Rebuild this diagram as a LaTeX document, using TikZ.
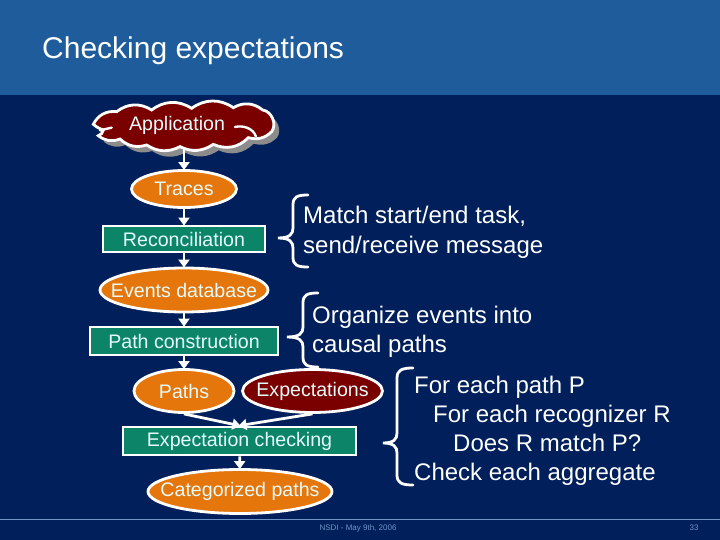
\documentclass[tikz,border=0pt]{standalone}
\usepackage{fontspec}
\setmainfont{Liberation Sans}
\usetikzlibrary{shapes.geometric,arrows.meta}
\definecolor{bgblue}{HTML}{001F5B}
\definecolor{bandblue}{HTML}{1F5C9C}
\definecolor{tealbox}{HTML}{0B8468}
\definecolor{orangefill}{HTML}{E5760C}
\definecolor{redfill}{HTML}{7A0000}
\definecolor{linkblue}{HTML}{6F94C8}
\definecolor{boxtext}{HTML}{E6FBFB}
\tikzset{
  x=1pt,y=-1pt,
  flowtext/.style={text=boxtext,font=\fontsize{19.6}{20}\selectfont,inner sep=0pt},
  oval/.style={ellipse,draw=white,line width=2.8pt,flowtext,inner xsep=-40pt,inner ysep=-10pt},
  orangeoval/.style={oval,fill=orangefill},
  redoval/.style={oval,fill=redfill},
  stepbox/.style={rectangle,draw=white,line width=2.8pt,fill=tealbox,flowtext},
  flow/.style={draw=white,line width=2.8pt,-{Triangle[width=11pt,length=8pt]},shorten >=-1pt},
  bracepath/.style={draw=white,line width=2.8pt,line cap=round},
  remark/.style={text=white,font=\fontsize{24}{24}\selectfont,inner sep=0pt,anchor=base west},
  foot/.style={text=linkblue,font=\fontsize{8}{8}\selectfont,inner sep=0pt}
}
\def\cloudpath{(40,88) to[bend left=35] (110,50) to[bend left=35] (215,45) to[bend left=35] (335,40) to[bend left=35] (460,38) to[bend left=35] (548,45) to[bend left=60] (575,110) to[bend left=30] (505,128) to[bend left=35] (400,148) to[bend left=30] (300,155) to[bend left=30] (200,150) to[bend left=30] (120,132) to[bend left=30] (55,122) to[bend right=30] (70,105) to[bend left=10] (40,88) -- cycle}
\begin{document}
\begin{tikzpicture}
\useasboundingbox (0,0) rectangle (720,540);
\fill[bgblue] (0,0) rectangle (720,540);
\fill[bandblue] (0,0) rectangle (720,95);
\draw[linkblue,line width=1pt] (0,519.5) -- (720,519.5);
\node[anchor=base west,inner sep=0pt,text=white,font=\fontsize{30}{30}\selectfont] (title) at (42,59) {Checking expectations};
% cloud
\begin{scope}[shift={(80,95)},x=0.3333pt,y=-0.3333pt]
\begin{scope}[shift={(16,18)}]
\fill[black!45] \cloudpath;
\end{scope}
\draw[draw=white,line width=2.8pt,fill=redfill] \cloudpath;
\draw[white,line width=2.4pt,line cap=round] (465,96) .. controls (490,90) and (520,100) .. (528,125);
\draw[white,line width=2.4pt,line cap=round] (60,106) -- (95,98);
\end{scope}
\node[minimum width=166pt,minimum height=47pt,inner sep=0pt,flowtext] (app) at (177,125) {Application};
\node[orangeoval,minimum width=105pt,minimum height=37pt] (traces) at (184,189) {Traces};
\node[stepbox,minimum width=162pt,minimum height=26pt] (recon) at (184,239) {Reconciliation};
\node[orangeoval,minimum width=168pt,minimum height=44pt] (events) at (184,290) {Events database};
\node[stepbox,minimum width=188pt,minimum height=28pt] (pathc) at (184,341) {Path construction};
\node[orangeoval,minimum width=100pt,minimum height=43pt] (paths) at (184,391) {Paths};
\node[redoval,minimum width=140pt,minimum height=43pt] (expect) at (312.5,391) {Expectations};
\node[stepbox,minimum width=233pt,minimum height=28pt] (check) at (239.5,441) {Expectation checking};
\node[orangeoval,minimum width=184pt,minimum height=44pt] (cat) at (240,491.5) {Categorized paths};
% connectors
\draw[flow] (traces |- app.south) -- (traces.north);
\draw[flow] (traces) -- (recon);
\draw[flow] (recon) -- (events);
\draw[flow] (events) -- (pathc);
\draw[flow] (pathc) -- (paths);
\draw[flow] (paths.south) -- (check.north);
\draw[flow] (expect.south) -- (check.north);
\draw[flow] (check) -- (cat);
% braces
\draw[bracepath] (308,195) .. controls (297,195) and (293,197) .. (293,205) -- (293,228) .. controls (293,234) and (290,238) .. (278,238) .. controls (290,238) and (293,242) .. (293,248) -- (293,257) .. controls (293,265) and (297,267) .. (308,267);
\draw[bracepath] (318,293) .. controls (307,293) and (303,295) .. (303,303) -- (303,327) .. controls (303,333) and (300,337) .. (287,337) .. controls (300,337) and (303,341) .. (303,347) -- (303,357) .. controls (303,365) and (307,367) .. (318,367);
\draw[bracepath] (413,368) .. controls (402,368) and (397,370) .. (397,378) -- (397,433) .. controls (397,439) and (394,443) .. (383,443) .. controls (394,443) and (397,447) .. (397,453) -- (397,475) .. controls (397,483) and (402,485) .. (413,485);
% remarks
\node[remark] (r1a) at (303,224) {Match start/end task,};
\node[remark] (r1b) at (303,253) {send/receive message};
\node[remark] (r2a) at (312,323) {Organize events into};
\node[remark] (r2b) at (312,352) {causal paths};
\node[remark] (r3a) at (414,393) {For each path P};
\node[remark] (r3b) at (433,422) {For each recognizer R};
\node[remark] (r3c) at (453,451) {Does R match P?};
\node[remark] (r3d) at (414,480) {Check each aggregate};
% footer
\node[foot] (date) at (358,528) {NSDI - May 9th, 2006};
\node[foot] (num) at (694,528) {33};
\end{tikzpicture}
\end{document}
